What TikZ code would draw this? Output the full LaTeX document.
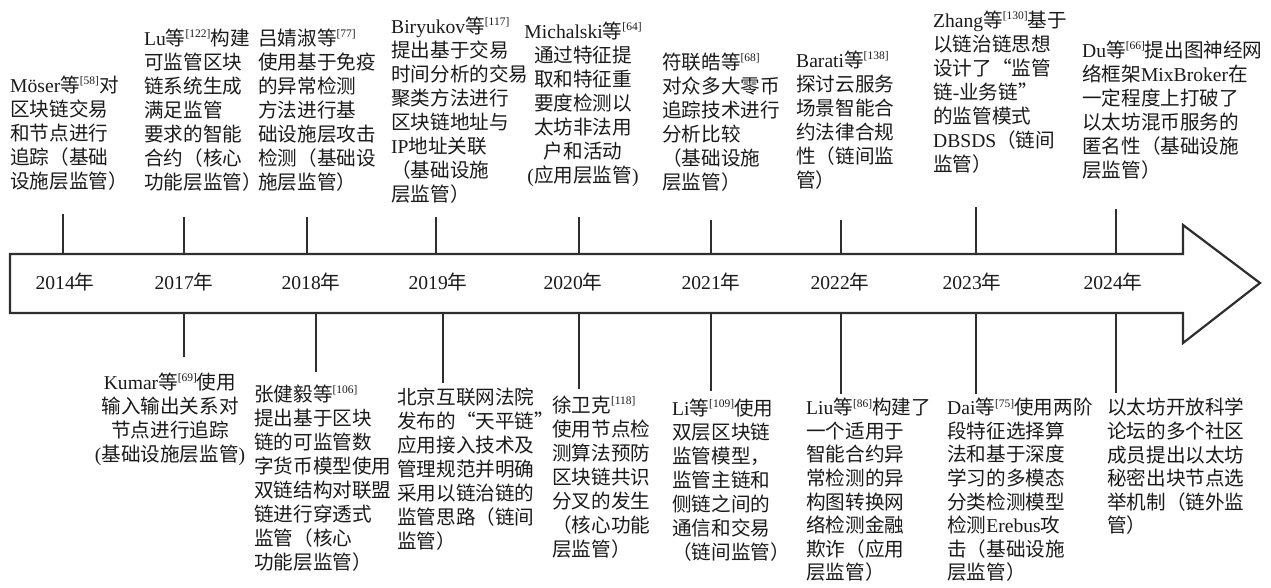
\documentclass[tikz,border=0pt]{standalone}
\usepackage{fontspec}
\setmainfont{Liberation Serif}
\newfontfamily\cjkfnt{Noto Sans CJK SC}
\XeTeXinterchartokenstate=1
\newXeTeXintercharclass\cjkcls
\makeatletter
\count@=0
\loop
  \XeTeXcharclass\count@=0
  \ifnum\count@<"2FF \advance\count@ by 1 \repeat
\count@="2000
\loop
  \XeTeXcharclass\count@=0
  \ifnum\count@<"206F \advance\count@ by 1 \repeat
\count@="4E00
\loop
  \XeTeXcharclass\count@=\cjkcls
  \ifnum\count@<"9FFF \advance\count@ by 1 \repeat
\count@="3000
\loop
  \XeTeXcharclass\count@=\cjkcls
  \ifnum\count@<"303F \advance\count@ by 1 \repeat
\count@="FF01
\loop
  \XeTeXcharclass\count@=\cjkcls
  \ifnum\count@<"FF5E \advance\count@ by 1 \repeat
\makeatother
\XeTeXcharclass"201C=\cjkcls
\XeTeXcharclass"201D=\cjkcls
\XeTeXinterchartoks 0 \cjkcls = {\cjkfnt}
\XeTeXinterchartoks 4095 \cjkcls = {\cjkfnt}
\XeTeXinterchartoks \cjkcls 0 = {\rmfamily}
\XeTeXinterchartoks \cjkcls 4095 = {\rmfamily}
\newcommand\rf[1]{\raisebox{7.5pt}{\fontsize{11.5}{12}\selectfont\rmfamily[#1]}}
\definecolor{ink}{HTML}{1A1A1A}
\definecolor{linec}{HTML}{2E2E2E}
\begin{document}
\begin{tikzpicture}[x=1pt,y=-1pt,
  every node/.style={inner sep=0pt, text=ink},
  blk/.style={font=\fontsize{19.6}{24}\selectfont, align=left, anchor=north west},
  blkb/.style={font=\fontsize{19.6}{23.6}\selectfont, align=left, anchor=north west},
  blkc/.style={font=\fontsize{19.6}{24}\selectfont, align=center, anchor=north},
  yr/.style={font=\fontsize{19.6}{24}\selectfont, anchor=center},
  tick/.style={draw=linec, line width=1.6pt},
  arrowbody/.style={draw=linec, line width=2.2pt, fill=white, line join=miter}]
\useasboundingbox (0,0) rectangle (1271,587);
% ticks
\foreach \n/\x/\t in {14/63/214, 17/184/217, 18/307/217, 19/436/217, 20/579/217, 21/711/220, 22/841/220, 23/976/207, 24/1116/209} {
  \coordinate (up\n) at (\x,\t);
  \coordinate (top\n) at (\x,254);
  \draw[tick] (up\n) -- (top\n);
}
\foreach \n/\x/\b in {17/184/357, 18/316/372, 19/443/383, 20/579/389, 21/711/391, 22/841/394, 23/976/394, 24/1116/393} {
  \coordinate (bot\n) at (\x,313);
  \coordinate (dn\n) at (\x,\b);
  \draw[tick] (bot\n) -- (dn\n);
}
% arrow
\draw[arrowbody] (10,254) -- (1183,254) -- (1183,225) -- (1260,283) -- (1183,343) -- (1183,313) -- (10,313) -- cycle;
% years
\node[yr] (y14) at (65,282) {2014年};
\node[yr] (y17) at (184,282) {2017年};
\node[yr] (y18) at (311,282) {2018年};
\node[yr] (y19) at (438,282) {2019年};
\node[yr] (y20) at (573,282) {2020年};
\node[yr] (y21) at (711,282) {2021年};
\node[yr] (y22) at (840,282) {2022年};
\node[yr] (y23) at (972,282) {2023年};
\node[yr] (y24) at (1113,282) {2024年};
% top texts
\node[blk] (moser) at (10,75.5) {Möser等\rf{58}对\\区块链交易\\和节点进行\\追踪（基础\\设施层监管）};
\node[blk] (lu) at (144,28.5) {Lu等\rf{122}构建\\可监管区块\\链系统生成\\满足监管\\要求的智能\\合约（核心\\功能层监管）};
\node[blk] (lv) at (258,28.5) {吕婧淑等\rf{77}\\使用基于免疫\\的异常检测\\方法进行基\\础设施层攻击\\检测（基础设\\施层监管）};
\node[blk] (bir) at (391,16.5) {Biryukov等\rf{117}\\提出基于交易\\时间分析的交易\\聚类方法进行\\区块链地址与\\IP地址关联\\（基础设施\\层监管）};
\node[blkc] (mic) at (583,21.5) {Michalski等\rf{64}\\通过特征提\\取和特征重\\要度检测以\\太坊非法用\\户和活动\\(应用层监管)};
\node[blk] (fu) at (662,52.5) {符联皓等\rf{68}\\对众多大零币\\追踪技术进行\\分析比较\\（基础设施\\层监管）};
\node[blk] (bar) at (796,50.5) {Barati等\rf{138}\\探讨云服务\\场景智能合\\约法律合规\\性（链间监\\管）};
\node[blk] (zh) at (933,10.5) {Zhang等\rf{130}基于\\以链治链思想\\设计了“监管\\链-业务链”\\的监管模式\\DBSDS（链间\\监管）};
\node[blk] (du) at (1082,40.5) {Du等\rf{66}提出图神经网\\络框架MixBroker在\\一定程度上打破了\\以太坊混币服务的\\匿名性（基础设施\\层监管）};
% bottom texts
\node[blkc] (ku) at (170,372.5) {Kumar等\rf{69}使用\\输入输出关系对\\节点进行追踪\\(基础设施层监管)};
\node[blk] (zjy) at (254,384.5) {张健毅等\rf{106}\\提出基于区块\\链的可监管数\\字货币模型使用\\双链结构对联盟\\链进行穿透式\\监管（核心\\功能层监管）};
\node[blk] (bj) at (397,387.5) {北京互联网法院\\发布的“天平链”\\应用接入技术及\\管理规范并明确\\采用以链治链的\\监管思路（链间\\监管）};
\node[blk] (xu) at (552,395.5) {徐卫克\rf{118}\\使用节点检\\测算法预防\\区块链共识\\分叉的发生\\（核心功能\\层监管）};
\node[blk] (li) at (672,398.5) {Li等\rf{109}使用\\双层区块链\\监管模型，\\监管主链和\\侧链之间的\\通信和交易\\（链间监管）};
\node[blkb] (liu) at (806,398) {Liu等\rf{86}构建了\\一个适用于\\智能合约异\\常检测的异\\构图转换网\\络检测金融\\欺诈（应用\\层监管）};
\node[blkb] (dai) at (947,398) {Dai等\rf{75}使用两阶\\段特征选择算\\法和基于深度\\学习的多模态\\分类检测模型\\检测Erebus攻\\击（基础设施\\层监管）};
\node[blkb] (eth) at (1107,398) {以太坊开放科学\\论坛的多个社区\\成员提出以太坊\\秘密出块节点选\\举机制（链外监\\管）};
\end{tikzpicture}
\end{document}
